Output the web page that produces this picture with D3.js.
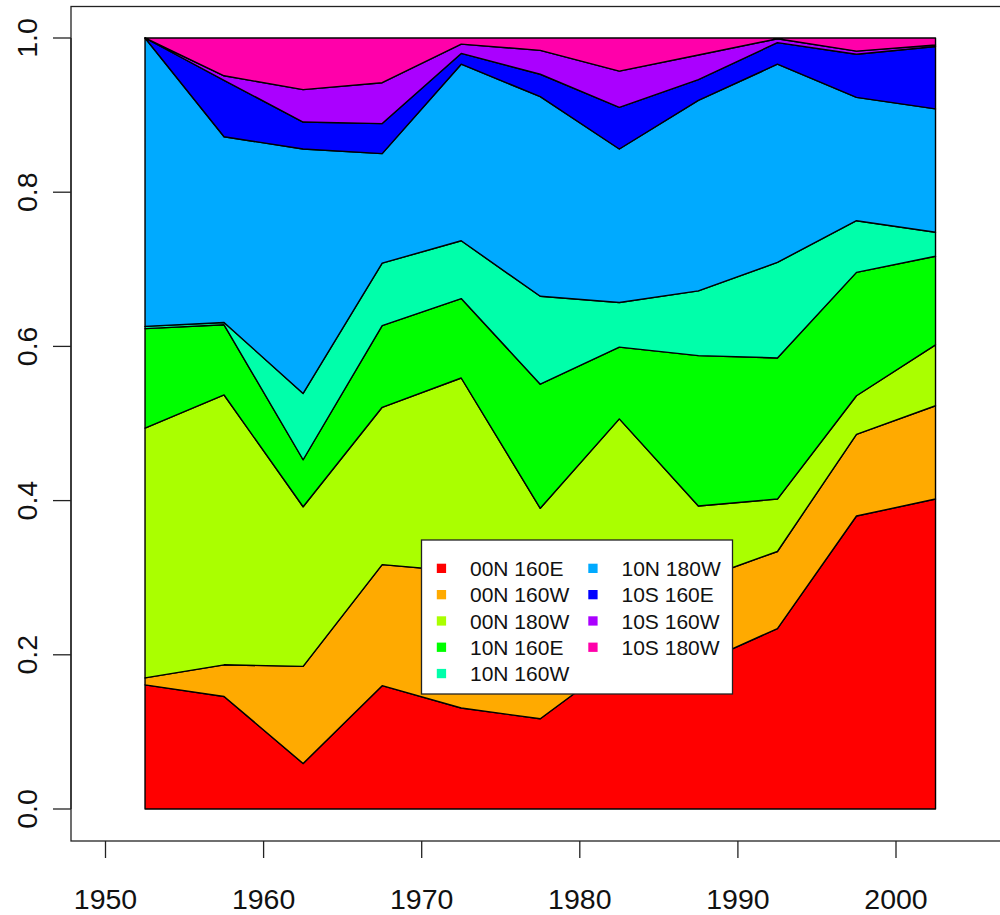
<!DOCTYPE html>
<html>
<head>
<meta charset="utf-8">
<script src="https://cdn.jsdelivr.net/npm/d3@7"></script>
<style>
	body { margin: 0; background: #fff; }
	svg { display: block; font-family: "Liberation Sans", Arial, sans-serif; }
</style>
</head>
<body>
<div id="graphic"></div>
<script>
// mid-points of the five-year bins
const years = [1952.5, 1957.5, 1962.5, 1967.5, 1972.5, 1977.5, 1982.5, 1987.5, 1992.5, 1997.5, 2002.5];

const regions = ["00N 160E", "00N 160W", "00N 180W", "10N 160E", "10N 160W",
	"10N 180W", "10S 160E", "10S 160W", "10S 180W"];

// share of each region per bin
const r00N160E = [0.161, 0.146, 0.059, 0.160, 0.131, 0.117, 0.193, 0.188, 0.234, 0.380, 0.402];
const r00N160W = [0.009, 0.041, 0.126, 0.157, 0.177, 0.183, 0.109, 0.109, 0.100, 0.106, 0.121];
const r00N180W = [0.324, 0.350, 0.207, 0.204, 0.251, 0.090, 0.204, 0.096, 0.068, 0.050, 0.079];
const r10N160E = [0.129, 0.091, 0.061, 0.106, 0.103, 0.161, 0.093, 0.195, 0.183, 0.160, 0.115];
const r10N160W = [0.003, 0.003, 0.086, 0.081, 0.075, 0.114, 0.058, 0.084, 0.124, 0.067, 0.031];
const r10N180W = [0.374, 0.241, 0.317, 0.142, 0.229, 0.259, 0.199, 0.247, 0.257, 0.160, 0.160];
const r10S160E = [0.000, 0.073, 0.035, 0.039, 0.014, 0.029, 0.054, 0.027, 0.028, 0.056, 0.081];
const r10S160W = [0.000, 0.006, 0.042, 0.053, 0.012, 0.031, 0.047, 0.032, 0.005, 0.004, 0.002];
const r10S180W = [0.000, 0.049, 0.067, 0.058, 0.008, 0.016, 0.043, 0.022, 0.001, 0.017, 0.009];

const seriesValues = [r00N160E, r00N160W, r00N180W, r10N160E, r10N160W,
	r10N180W, r10S160E, r10S160W, r10S180W];

const xTicks = [1950, 1960, 1970, 1980, 1990, 2000];
const yTicks = [0, 0.2, 0.4, 0.6, 0.8, 1.0];

const colourPalette = ["#FF0000", "#FFAA00", "#AAFF00", "#00FF00", "#00FFAA",
	"#00AAFF", "#0000FF", "#AA00FF", "#FF00AA"];

const width = 1000, height = 915;

function drawGraphic() {

	const svg = d3.select('#graphic')
		.append('svg')
		.attr('width', width)
		.attr('height', height);

	// scales line up with the R plot region
	const x = d3.scaleLinear().domain([1950, 2000]).range([105.5, 896]);
	const y = d3.scaleLinear().domain([0, 1]).range([809, 38]);

	// build a table for the stack
	const table = years.map((yr, i) => {
		const row = { year: yr };
		regions.forEach((r, j) => { row[r] = seriesValues[j][i]; });
		return row;
	});

	const series = d3.stack().keys(regions)(table);

	const area = d3.area()
		.x(d => x(d.data.year))
		.y0(d => y(d[0]))
		.y1(d => y(d[1]));

	svg.append('g')
		.selectAll('path')
		.data(series)
		.join('path')
		.attr('d', area)
		.attr('fill', (d, i) => colourPalette[i])
		.attr('stroke', '#000')
		.attr('stroke-width', 1.4)
		.attr('stroke-linejoin', 'round');

	// plot box (runs off the right-hand edge like the original)
	svg.append('rect')
		.attr('x', 71)
		.attr('y', 6.5)
		.attr('width', 960)
		.attr('height', 841 - 6.5)
		.attr('fill', 'none')
		.attr('stroke', '#222')
		.attr('stroke-width', 1.3);

	//x axis
	const xAxis = svg.append('g');
	xAxis.selectAll('line')
		.data(xTicks)
		.join('line')
		.attr('x1', d => x(d)).attr('x2', d => x(d))
		.attr('y1', 841).attr('y2', 858)
		.attr('stroke', '#222')
		.attr('stroke-width', 1.3);
	xAxis.selectAll('text')
		.data(xTicks)
		.join('text')
		.attr('x', d => x(d))
		.attr('y', 909)
		.attr('text-anchor', 'middle')
		.attr('font-size', 28.5)
		.attr('fill', '#111')
		.text(d => d);

	//y axis
	const yAxis = svg.append('g');
	yAxis.append('line')
		.attr('x1', 71).attr('x2', 71)
		.attr('y1', y(0)).attr('y2', y(1))
		.attr('stroke', '#222')
		.attr('stroke-width', 1.3);
	yAxis.selectAll('line.tick')
		.data(yTicks)
		.join('line')
		.attr('class', 'tick')
		.attr('x1', 53).attr('x2', 71)
		.attr('y1', d => y(d)).attr('y2', d => y(d))
		.attr('stroke', '#222')
		.attr('stroke-width', 1.3);
	yAxis.selectAll('text')
		.data(yTicks)
		.join('text')
		.attr('transform', d => `translate(36.5,${y(d)}) rotate(-90)`)
		.attr('text-anchor', 'middle')
		.attr('font-size', 28.5)
		.attr('fill', '#111')
		.text(d => d3.format('.1f')(d));

	// legend
	const legend = svg.append('g').attr('transform', 'translate(421.5,540)');
	legend.append('rect')
		.attr('width', 311)
		.attr('height', 154)
		.attr('fill', '#fff')
		.attr('stroke', '#222')
		.attr('stroke-width', 1.3);

	const items = legend.selectAll('g.item')
		.data(regions)
		.join('g')
		.attr('class', 'item')
		.attr('transform', (d, i) => {
			const col = i < 5 ? 0 : 1;
			const row = i < 5 ? i : i - 5;
			return `translate(${col * 151.5},${28.3 + row * 26.3})`;
		});

	items.append('rect')
		.attr('x', 15.3)
		.attr('y', -4.6)
		.attr('width', 9.3)
		.attr('height', 9.3)
		.attr('fill', (d, i) => colourPalette[i]);

	items.append('text')
		.attr('x', 48.5)
		.attr('y', 7.6)
		.attr('font-size', 21)
		.attr('fill', '#111')
		.text(d => d);
}

drawGraphic();
</script>
</body>
</html>
